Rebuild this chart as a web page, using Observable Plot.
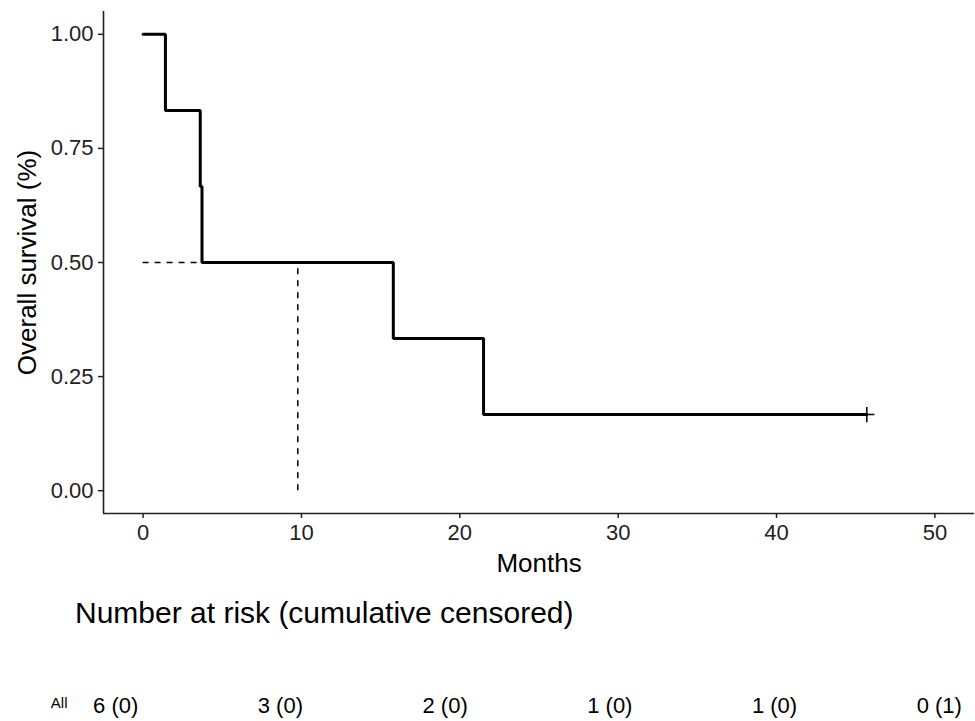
<!DOCTYPE html>
<html><head><meta charset="utf-8">
<script src="https://cdn.jsdelivr.net/npm/d3@7"></script>
<script src="https://cdn.jsdelivr.net/npm/@observablehq/plot@0.6"></script>
<style>
body{margin:0;background:#fff;font-family:"Liberation Sans",Arial,sans-serif;}
#wrap{position:relative;width:975px;height:721px;overflow:hidden;}
#main{position:absolute;left:0;top:0;}
#title{position:absolute;left:75px;top:596px;font-size:30px;color:#000;white-space:nowrap;}
#risk{position:absolute;left:0;top:680px;}
</style></head><body><div id="wrap"><div id="main"></div><div id="title">Number at risk (cumulative censored)</div><div id="risk"></div></div>
<script>
// Kaplan–Meier step curve (months, survival)
const times = [0, 1.41, 3.61, 3.72, 15.8, 21.5, 45.7];
const survival = [1, 0.8333, 0.6667, 0.5, 0.3333, 0.1667, 0.1667];
// censored observation
const censorTimes = [45.7];
const censorSurvival = [0.1667];
// median survival guide
const medianTime = [9.77];
const medianSurvival = [0.5];
// axes
const xDomain = [-2.5, 52.5];
const yDomain = [-0.05, 1.05];
const xTicks = [0, 10, 20, 30, 40, 50];
const yTicks = [0, 0.25, 0.5, 0.75, 1];
// risk table
const strata = ["All"];
const riskTimes = [0, 10, 20, 30, 40, 50];
const nAtRisk = [6, 3, 2, 1, 1, 0];
const nCensored = [0, 0, 0, 0, 0, 1];
const riskDomain = [-2.5, 52.2];

const font = "Liberation Sans, Arial, sans-serif";
const km = times.map((t, i) => ({time: t, surv: survival[i]}));
const cens = censorTimes.map((t, i) => ({time: t, surv: censorSurvival[i]}));
const med = medianTime.map((t, i) => ({time: t, surv: medianSurvival[i]}));

const main = Plot.plot({
  width: 975, height: 590,
  marginLeft: 103, marginRight: 1, marginTop: 11, marginBottom: 77,
  style: {fontFamily: font, color: "#000", background: "#fff", overflow: "visible"},
  x: {domain: xDomain},
  y: {domain: yDomain},
  marks: [
    Plot.ruleY(med, {y: "surv", x1: 0, x2: "time", stroke: "#000", strokeWidth: 1.5, strokeDasharray: "6,6"}),
    Plot.ruleX(med, {x: "time", y1: 0, y2: "surv", stroke: "#000", strokeWidth: 1.5, strokeDasharray: "6,6"}),
    Plot.line(km, {x: "time", y: "surv", curve: "step-after", stroke: "#000", strokeWidth: 3, strokeLinejoin: "miter"}),
    Plot.dot(cens, {x: "time", y: "surv", symbol: "plus", r: 5, stroke: "#000", strokeWidth: 1.5}),
    Plot.ruleX([xDomain[0]], {stroke: "#222", strokeWidth: 1.6}),
    Plot.ruleY([yDomain[0]], {stroke: "#222", strokeWidth: 1.6}),
    Plot.axisX({ticks: xTicks, tickSize: 5, tickPadding: 6, fontSize: 22, label: null, stroke: "#222", strokeWidth: 1.5, color: "#222"}),
    Plot.axisY({ticks: yTicks, tickFormat: d3.format(".2f"), tickSize: 5, tickPadding: 5, fontSize: 22, label: null, stroke: "#222", strokeWidth: 1.5, color: "#222"}),
    Plot.text(["Months"], {frameAnchor: "bottom", dy: 50, lineAnchor: "middle", textAnchor: "middle", fontSize: 26, fill: "#000"}),
    Plot.text(["Overall survival (%)"], {frameAnchor: "left", dx: -76, rotate: -90, textAnchor: "middle", lineAnchor: "middle", fontSize: 26, fill: "#000"})
  ]
});
document.getElementById("main").append(main);

const risk = riskTimes.map((t, i) => ({time: t, strata: strata[0], label: `${nAtRisk[i]} (${nCensored[i]})`}));
const riskPlot = Plot.plot({
  width: 975, height: 50,
  marginLeft: 74, marginRight: 0, marginTop: 0, marginBottom: 0,
  style: {fontFamily: font, color: "#000", background: "#fff", overflow: "visible"},
  x: {domain: riskDomain, axis: null},
  y: {domain: strata},
  marks: [
    Plot.axisY({tickSize: 0, tickPadding: 7, fontSize: 15, label: null, dy: -2}),
    Plot.text(risk, {x: "time", y: "strata", text: "label", fontSize: 22, fill: "#000"})
  ]
});
document.getElementById("risk").append(riskPlot);
</script></body></html>
